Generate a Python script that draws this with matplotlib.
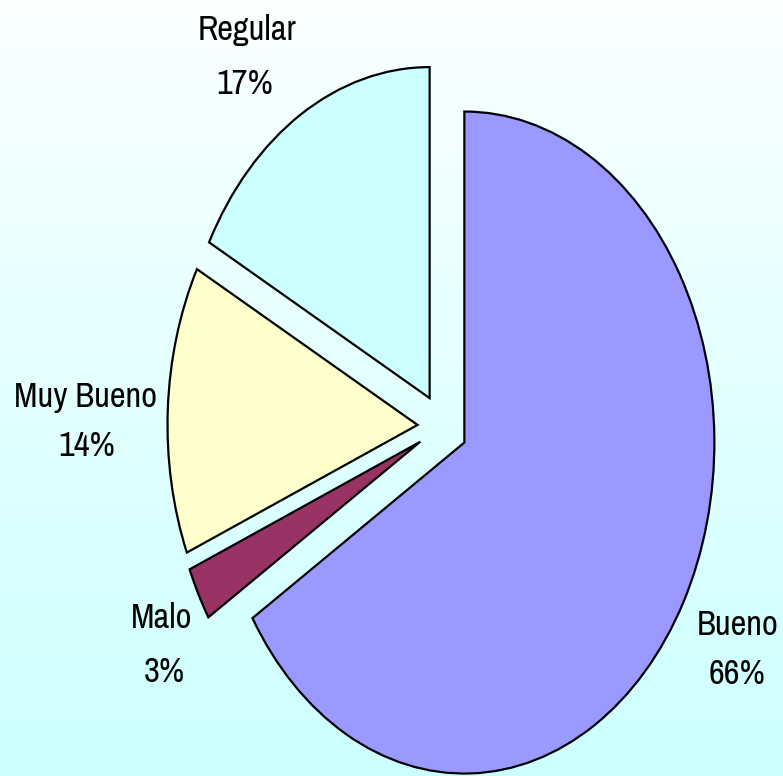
import numpy as np
import matplotlib
matplotlib.use("Agg")
import matplotlib.pyplot as plt
from matplotlib.colors import LinearSegmentedColormap

# Data (clockwise from 12 o'clock)
categories = ["Bueno", "Malo", "Muy Bueno", "Regular"]
values = [66.1, 2.6, 14.1, 17.2]
colors = ["#9999FF", "#993366", "#FFFFCC", "#CCFFFF"]

W, H = 783, 776
fig = plt.figure(figsize=(W / 100, H / 100), dpi=100)

# Background gradient
bg = fig.add_axes([0, 0, 1, 1], zorder=0)
grad = np.linspace(0, 1, 256).reshape(-1, 1)
cmap = LinearSegmentedColormap.from_list("bg", ["#FAFFFF", "#CCFFFF"])
bg.imshow(grad, aspect="auto", cmap=cmap, extent=[0, 1, 0, 1], origin="upper")
bg.set_axis_off()

ax = fig.add_axes([0, 0, 1, 1], zorder=1)
ax.patch.set_alpha(0)
ax.pie(values, colors=colors, startangle=90, counterclock=False,
       explode=[0.1] * len(values),
       wedgeprops=dict(edgecolor="black", linewidth=1.6))
ax.set_aspect("auto")
cx, cy, rx, ry = 442.5, 426.5, 250.0, 331.0
ax.set_xlim((0 - cx) / rx, (W - cx) / rx)
ax.set_ylim((cy - H) / ry, (cy - 0) / ry)
ax.set_axis_off()

font = ["Pragati Narrow", "Roboto Condensed", "Liberation Sans", "DejaVu Sans"]
label_pos = {  # name (x, baseline), pct (x, baseline) in pixels
    "Bueno": ((738, 635), (737, 684)),
    "Malo": ((162, 628), (164, 682)),
    "Muy Bueno": ((85, 407), (87, 456)),
    "Regular": ((247, 40), (245, 94)),
}
total = sum(values)
for cat, v in zip(categories, values):
    (nx, ny), (px, py) = label_pos[cat]
    fig.text(nx / W, 1 - ny / H, cat, ha="center", va="baseline",
             fontsize=27, family=font, zorder=3)
    fig.text(px / W, 1 - py / H, f"{100 * v / total:.0f}%", ha="center",
             va="baseline", fontsize=27, family=font, zorder=3)

fig.savefig("out.png", dpi=100)
